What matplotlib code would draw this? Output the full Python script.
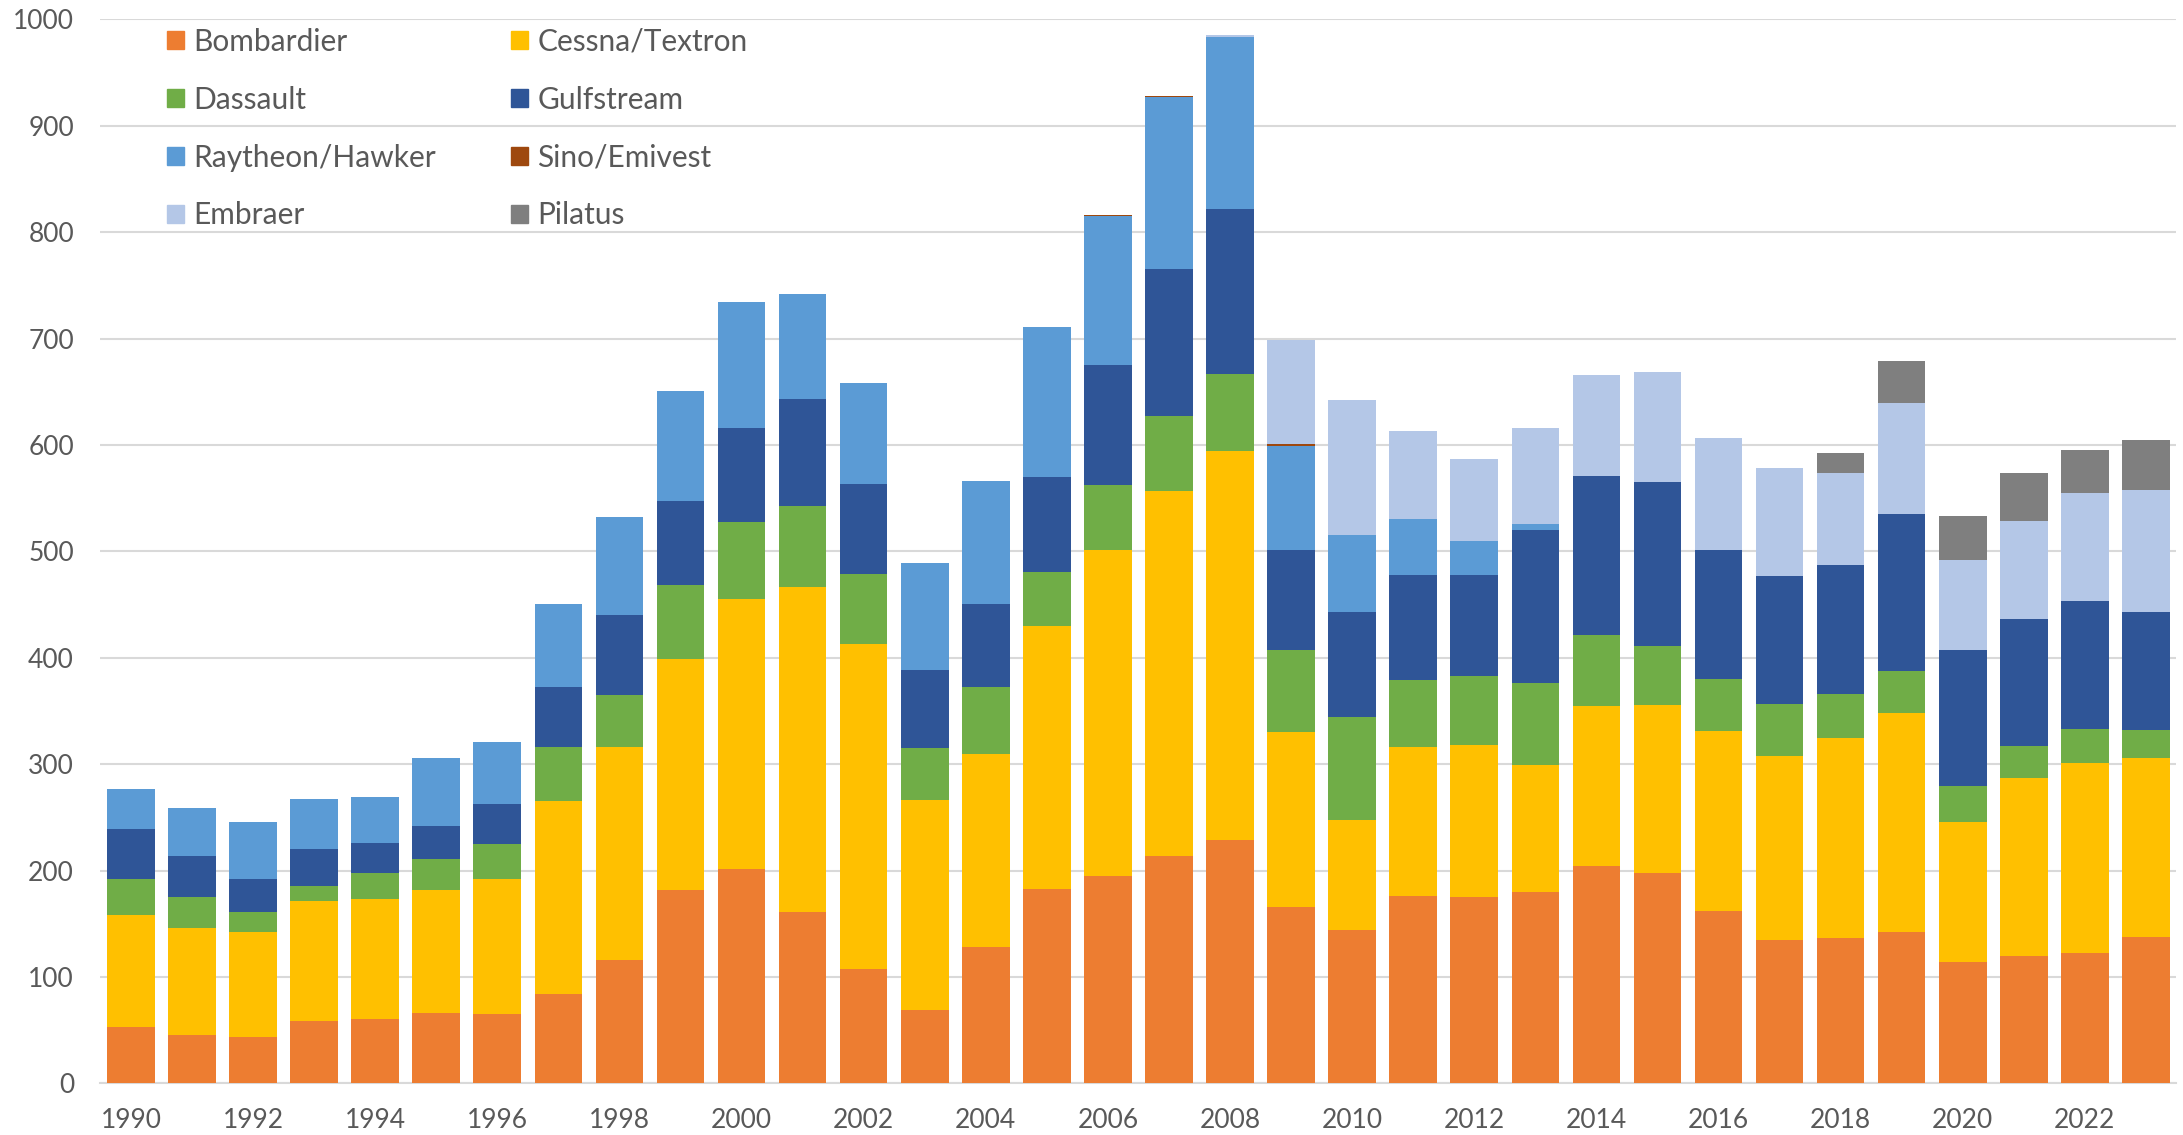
import numpy as np
import matplotlib.pyplot as plt
from matplotlib.patches import Patch

years = list(range(1990, 2024))

bombardier = [53, 46, 44, 59, 61, 66, 65, 84, 116, 182, 202, 161, 108, 69, 128, 183, 195,
              214, 229, 166, 144, 176, 175, 180, 204, 198, 162, 135, 137, 142, 114, 120, 123, 138]
cessna = [105, 100, 98, 112, 112, 116, 127, 181, 200, 217, 253, 306, 305, 197, 182, 247, 306,
          343, 365, 164, 104, 140, 143, 119, 151, 158, 169, 173, 188, 206, 132, 167, 178, 168]
dassault = [34, 29, 19, 15, 25, 29, 33, 51, 49, 69, 73, 76, 66, 49, 63, 51, 61,
            70, 73, 77, 96, 63, 65, 77, 66, 55, 49, 49, 41, 40, 34, 30, 32, 26]
gulfstream = [47, 39, 31, 34, 28, 31, 38, 57, 75, 79, 88, 100, 84, 74, 78, 89, 113,
              138, 155, 94, 99, 99, 95, 144, 150, 154, 121, 120, 121, 147, 127, 119, 120, 111]
raytheon = [38, 45, 54, 47, 43, 64, 58, 78, 92, 104, 118, 99, 95, 100, 115, 141, 140,
            162, 161, 98, 72, 52, 32, 6, 0, 0, 0, 0, 0, 0, 0, 0, 0, 0]
sino = [0, 0, 0, 0, 0, 0, 0, 0, 0, 0, 0, 0, 0, 0, 0, 0, 1,
        1, 0, 2, 0, 0, 0, 0, 0, 0, 0, 0, 0, 0, 0, 0, 0, 0]
embraer = [0, 0, 0, 0, 0, 0, 0, 0, 0, 0, 0, 0, 0, 0, 0, 0, 0,
           0, 2, 98, 127, 83, 77, 90, 95, 104, 106, 101, 87, 104, 85, 93, 102, 115]
pilatus = [0, 0, 0, 0, 0, 0, 0, 0, 0, 0, 0, 0, 0, 0, 0, 0, 0,
           0, 0, 0, 0, 0, 0, 0, 0, 0, 0, 0, 18, 40, 41, 45, 40, 47]

series = [
    ("Bombardier", bombardier, "#ED7D31"),
    ("Cessna/Textron", cessna, "#FFC000"),
    ("Dassault", dassault, "#70AD47"),
    ("Gulfstream", gulfstream, "#2F5597"),
    ("Raytheon/Hawker", raytheon, "#5B9BD5"),
    ("Sino/Emivest", sino, "#9E480E"),
    ("Embraer", embraer, "#B4C7E7"),
    ("Pilatus", pilatus, "#7F7F7F"),
]

plt.rcParams['font.family'] = ['Lato', 'DejaVu Sans']

fig = plt.figure(figsize=(21.83, 11.35), dpi=100)
ax = fig.add_axes([0.046, 0.0454, 0.951, 0.9376])

x = np.arange(len(years))
bottom = np.zeros(len(years))
for name, vals, col in series:
    vals = np.array(vals, dtype=float)
    ax.bar(x, vals, bottom=bottom, width=0.78, color=col, label=name, zorder=3)
    bottom += vals

ax.set_xlim(-0.5, len(years) - 0.5)
ax.set_ylim(0, 1000)
ax.set_yticks(range(0, 1001, 100))
ax.set_xticks(x[::2])
ax.set_xticklabels([str(y) for y in years[::2]])
ax.tick_params(axis='both', length=0, labelsize=19, colors="#595959")
ax.tick_params(axis='x', pad=18)
ax.tick_params(axis='y', pad=19)
ax.grid(axis='y', color="#D9D9D9", linewidth=1.5, zorder=0)
for s in ['top', 'right', 'left']:
    ax.spines[s].set_visible(False)
ax.spines['bottom'].set_color("#D9D9D9")
ax.spines['bottom'].set_linewidth(1.5)

# legend order: row-wise in two columns
order = [0, 2, 4, 6, 1, 3, 5, 7]
handles = [Patch(color=series[i][2]) for i in order]
labels = [series[i][0] for i in order]
leg = ax.legend(handles, labels, ncol=2, loc='upper left', bbox_to_anchor=(0.032, 0.992),
                frameon=False, fontsize=21.5, handlelength=0.56, handleheight=0.56,
                handletextpad=0.33, labelspacing=1.0, columnspacing=2.5,
                borderpad=0, borderaxespad=0)
for t in leg.get_texts():
    t.set_color("#595959")

fig.savefig("out.png", dpi=100)
